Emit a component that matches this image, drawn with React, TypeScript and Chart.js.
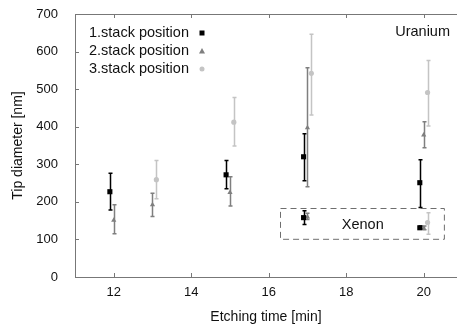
import React, { useEffect, useRef } from "react";
import { Chart, registerables } from "chart.js";

Chart.register(...registerables);

// ---- Data ----
const xTickValues = [12, 14, 16, 18, 20];

// 1. stack position (black squares)
const s1X = [11.9, 14.9, 16.9, 19.9];
const s1Y = [227, 272, 320, 251];
const s1Lo = [178, 235, 256, 185];
const s1Hi = [276, 310, 381, 312];
const s1XenonX = [16.9, 19.9];
const s1XenonY = [158, 131];
const s1XenonLo = [140, 127];
const s1XenonHi = [176, 136];

// 2. stack position (grey triangles)
const s2X = [12.0, 13.0, 15.0, 17.0, 20.0];
const s2Y = [151, 192, 225, 397, 378];
const s2Lo = [115, 161, 189, 240, 344];
const s2Hi = [192, 223, 267, 557, 413];
const s2XenonX = [17.0, 20.0];
const s2XenonY = [160, 130];
const s2XenonLo = [153, 126];
const s2XenonHi = [170, 136];

// 3. stack position (light grey circles)
const s3X = [13.1, 15.1, 17.1, 20.1];
const s3Y = [259, 412, 542, 491];
const s3Lo = [208, 349, 431, 402];
const s3Hi = [310, 478, 646, 576];
const s3XenonX = [20.1];
const s3XenonY = [145];
const s3XenonLo = [114];
const s3XenonHi = [171];

const seriesLabels = ["1.stack position", "2.stack position", "3.stack position"];
const seriesColors = ["#000000", "#7f7f7f", "#c4c4c4"];
const seriesStyles = ["rect", "triangle", "circle"];

// Xenon region box (data coords)
const xenonBoxX = [16.3, 20.53];
const xenonBoxY = [101, 183];

const FONT = "'Liberation Sans', Arial, sans-serif";
const AXIS = "#777777";

function build(xs: number[], ys: number[], lo: number[], hi: number[]) {
  return xs.map((x, i) => ({ x, y: ys[i], lo: lo[i], hi: hi[i] }));
}

const errorBarPlugin = {
  id: "errorBars",
  beforeDatasetsDraw(chart: any) {
    const { ctx, scales } = chart;
    const xs = scales.x;
    const ys = scales.y;
    chart.data.datasets.forEach((ds: any) => {
      ctx.save();
      ctx.strokeStyle = ds.borderColor;
      ctx.lineWidth = 1.5;
      ds.data.forEach((p: any) => {
        const px = Math.round(xs.getPixelForValue(p.x)) + 0.5;
        const pLo = ys.getPixelForValue(p.lo);
        const pHi = ys.getPixelForValue(p.hi);
        ctx.beginPath();
        ctx.moveTo(px, pLo);
        ctx.lineTo(px, pHi);
        ctx.moveTo(px - 2, pLo);
        ctx.lineTo(px + 2, pLo);
        ctx.moveTo(px - 2, pHi);
        ctx.lineTo(px + 2, pHi);
        ctx.stroke();
      });
      ctx.restore();
    });
  },
};

const framePlugin = {
  id: "frame",
  afterDraw(chart: any) {
    const { ctx, chartArea, scales } = chart;
    const xs = scales.x;
    const ys = scales.y;
    ctx.save();
    ctx.strokeStyle = AXIS;
    ctx.lineWidth = 1;
    // top border
    ctx.beginPath();
    ctx.moveTo(chartArea.left, Math.round(chartArea.top) + 0.5);
    ctx.lineTo(457, Math.round(chartArea.top) + 0.5);
    ctx.stroke();
    // x tick marks (inward, bottom and top)
    xTickValues.forEach((v) => {
      const px = Math.round(xs.getPixelForValue(v)) + 0.5;
      ctx.beginPath();
      ctx.moveTo(px, chartArea.bottom);
      ctx.lineTo(px, chartArea.bottom - 4);
      ctx.moveTo(px, chartArea.top);
      ctx.lineTo(px, chartArea.top + 4);
      ctx.stroke();
    });
    // y tick marks (inward)
    ys.ticks.forEach((t: any) => {
      const py = Math.round(ys.getPixelForValue(t.value)) + 0.5;
      ctx.beginPath();
      ctx.moveTo(chartArea.left, py);
      ctx.lineTo(chartArea.left + 4, py);
      ctx.stroke();
    });
    // Xenon dashed box
    const bx0 = xs.getPixelForValue(xenonBoxX[0]);
    const bx1 = xs.getPixelForValue(xenonBoxX[1]);
    const by0 = ys.getPixelForValue(xenonBoxY[1]);
    const by1 = ys.getPixelForValue(xenonBoxY[0]);
    ctx.setLineDash([6, 4]);
    ctx.strokeStyle = "#6e6e6e";
    ctx.strokeRect(Math.round(bx0) + 0.5, Math.round(by0) + 0.5, bx1 - bx0, by1 - by0);
    ctx.setLineDash([]);
    // Labels
    ctx.fillStyle = "#111111";
    ctx.font = `14.5px ${FONT}`;
    ctx.textBaseline = "middle";
    ctx.textAlign = "center";
    ctx.fillText("Xenon", (bx0 + bx1) / 2 + 0.5, (by0 + by1) / 2 + 1);
    ctx.textAlign = "right";
    ctx.fillText("Uranium", 450, 32);
    // Legend
    ctx.textAlign = "left";
    const legendY = [33, 51, 69];
    seriesLabels.forEach((label, i) => {
      ctx.fillStyle = "#111111";
      ctx.fillText(label, 89, legendY[i]);
      ctx.fillStyle = seriesColors[i];
      const mx = 202;
      const my = legendY[i];
      ctx.beginPath();
      if (seriesStyles[i] === "rect") {
        ctx.rect(mx - 2.5, my - 2.5, 5, 5);
      } else if (seriesStyles[i] === "triangle") {
        ctx.moveTo(mx, my - 3);
        ctx.lineTo(mx + 3, my + 2.5);
        ctx.lineTo(mx - 3, my + 2.5);
        ctx.closePath();
      } else {
        ctx.arc(mx, my, 2.5, 0, Math.PI * 2);
      }
      ctx.fill();
    });
    ctx.restore();
  },
};

export default function App() {
  const canvasRef = useRef<HTMLCanvasElement | null>(null);

  useEffect(() => {
    if (!canvasRef.current) return;
    const datasets = [
      {
        label: seriesLabels[0],
        data: [...build(s1X, s1Y, s1Lo, s1Hi), ...build(s1XenonX, s1XenonY, s1XenonLo, s1XenonHi)],
        pointStyle: "rect",
        pointRadius: 3.6,
      },
      {
        label: seriesLabels[1],
        data: [...build(s2X, s2Y, s2Lo, s2Hi), ...build(s2XenonX, s2XenonY, s2XenonLo, s2XenonHi)],
        pointStyle: "triangle",
        pointRadius: 3,
      },
      {
        label: seriesLabels[2],
        data: [...build(s3X, s3Y, s3Lo, s3Hi), ...build(s3XenonX, s3XenonY, s3XenonLo, s3XenonHi)],
        pointStyle: "circle",
        pointRadius: 2.6,
      },
    ].map((d, i) => ({
      ...d,
      backgroundColor: seriesColors[i],
      borderColor: seriesColors[i],
      borderWidth: 0,
      showLine: false,
      clip: false,
    }));

    const chart = new Chart(canvasRef.current, {
      type: "scatter",
      data: { datasets: datasets as any },
      plugins: [errorBarPlugin, framePlugin],
      options: {
        animation: false,
        responsive: false,
        devicePixelRatio: 1,
        layout: { autoPadding: false, padding: { left: 0, right: 0, top: 14, bottom: 0 } },
        plugins: { legend: { display: false }, tooltip: { enabled: false } },
        scales: {
          x: {
            type: "linear",
            min: 11,
            max: 20.86,
            afterBuildTicks: (scale: any) => {
              scale.ticks = xTickValues.map((v) => ({ value: v }));
            },
            afterFit: (scale: any) => {
              scale.height = 50;
              scale.paddingLeft = 0;
              scale.paddingRight = 0;
            },
            grid: { display: false, drawTicks: false, tickLength: 0 },
            border: { display: true, color: AXIS, width: 1 },
            ticks: {
              padding: 8,
              color: "#111111",
              font: { family: FONT, size: 13 },
              maxRotation: 0,
            },
            title: {
              display: true,
              text: "Etching time [min]",
              color: "#111111",
              font: { family: FONT, size: 14 },
              padding: { top: 0, bottom: 1 },
            },
          },
          y: {
            type: "linear",
            min: 0,
            max: 700,
            afterFit: (scale: any) => {
              scale.width = 75;
              scale.paddingTop = 0;
              scale.paddingBottom = 0;
            },
            grid: { display: false, drawTicks: false, tickLength: 0 },
            border: { display: true, color: AXIS, width: 1 },
            ticks: {
              stepSize: 100,
              padding: 17,
              color: "#111111",
              font: { family: FONT, size: 13 },
            },
            title: {
              display: true,
              text: "Tip diameter [nm]",
              color: "#111111",
              font: { family: FONT, size: 14 },
              padding: { top: 10, bottom: 0 },
            },
          },
        },
      },
    });
    return () => chart.destroy();
  }, []);

  return (
    <div style={{ position: "fixed", left: 0, top: 0, width: 457, height: 327, background: "#fff" }}>
      <canvas ref={canvasRef} width={457} height={327} style={{ display: "block" }} />
    </div>
  );
}
